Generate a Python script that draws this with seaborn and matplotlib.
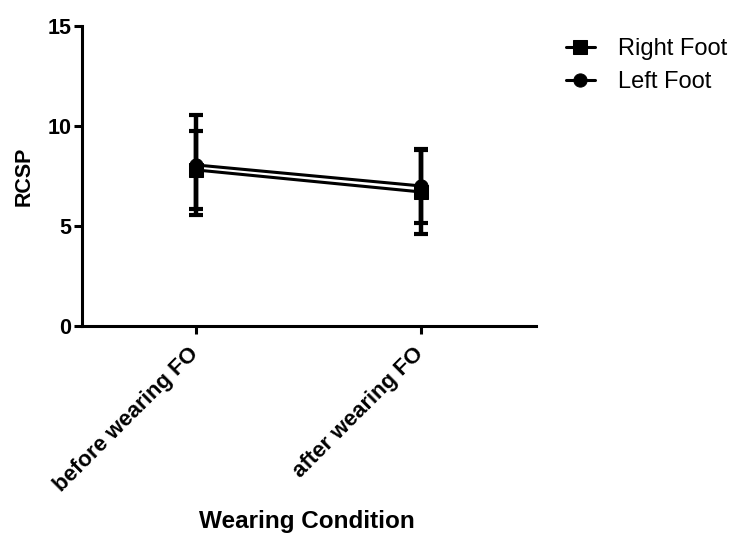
import matplotlib
matplotlib.use("Agg")
import matplotlib.pyplot as plt
import matplotlib.transforms as mtransforms
import seaborn as sns
import pandas as pd

conditions = ["before wearing FO", "after wearing FO"]
right_mean = [7.8, 6.7]
right_sd = [1.95, 2.1]
left_mean = [8.05, 7.0]
left_sd = [2.5, 1.85]
series = ["Right Foot", "Left Foot"]
y_ticks = [0, 5, 10, 15]

sns.set_theme(style="ticks")
plt.rcParams["font.family"] = ["Liberation Sans", "DejaVu Sans"]
plt.rcParams.update({
    "text.color": "black",
    "axes.labelcolor": "black",
    "xtick.color": "black",
    "ytick.color": "black",
    "xtick.labelcolor": "black",
    "ytick.labelcolor": "black",
})

df = pd.DataFrame({
    "Wearing Condition": conditions * 2,
    "pos": [0, 1, 0, 1],
    "RCSP": right_mean + left_mean,
    "sd": right_sd + left_sd,
    "Foot": [series[0]] * 2 + [series[1]] * 2,
})

fig = plt.figure(figsize=(7.29, 5.36), dpi=100)
ax = fig.add_axes([0.1125, 0.392, 0.6225, 0.5595])

sns.lineplot(
    data=df, x="pos", y="RCSP", hue="Foot", style="Foot",
    hue_order=series, style_order=series,
    palette={s: "black" for s in series},
    markers={"Right Foot": "s", "Left Foot": "o"},
    dashes=False, markersize=9.5, linewidth=2.2,
    markeredgecolor="black", ax=ax, legend=True,
)

for name in series:
    sub = df[df["Foot"] == name]
    ax.errorbar(sub["pos"], sub["RCSP"], yerr=sub["sd"], fmt="none",
                ecolor="black", elinewidth=3.2, capsize=5, capthick=3,
                zorder=3)

handles, labels = ax.get_legend_handles_labels()
ax.legend(handles, labels, loc="upper left", bbox_to_anchor=(1.045, 0.99),
          frameon=False, fontsize=17, handlelength=1.25, handletextpad=0.95,
          labelspacing=0.45, borderaxespad=0, labelcolor="black")

ax.set_xlim(-0.507, 1.511)
ax.set_ylim(0, 15)
ax.set_yticks(y_ticks)
ax.set_yticklabels([str(t) for t in y_ticks], fontsize=15.5, fontweight="bold")
ax.set_xticks([0, 1])
ax.set_xticklabels(conditions, rotation=45, ha="right", rotation_mode="anchor",
                   fontsize=16, fontweight="bold")

ax.set_xlabel("Wearing Condition", fontsize=17.5, fontweight="bold")
ax.xaxis.set_label_coords(0.495, -0.613)
ax.set_ylabel("RCSP", fontsize=15.5, fontweight="bold")
ax.yaxis.set_label_coords(-0.105, 0.5)

for side in ["top", "right"]:
    ax.spines[side].set_visible(False)
for side in ["left", "bottom"]:
    ax.spines[side].set_linewidth(2.2)
    ax.spines[side].set_color("black")
ax.tick_params(axis="both", width=2.2, length=6, color="black", pad=1.5)

# nudge the slanted category labels down and left of their ticks
shift = mtransforms.ScaledTranslation(-0.08, -0.07, fig.dpi_scale_trans)
for tick in ax.xaxis.get_major_ticks():
    tick.label1.set_transform(tick.label1.get_transform() + shift)

fig.savefig("out.png", dpi=100)
